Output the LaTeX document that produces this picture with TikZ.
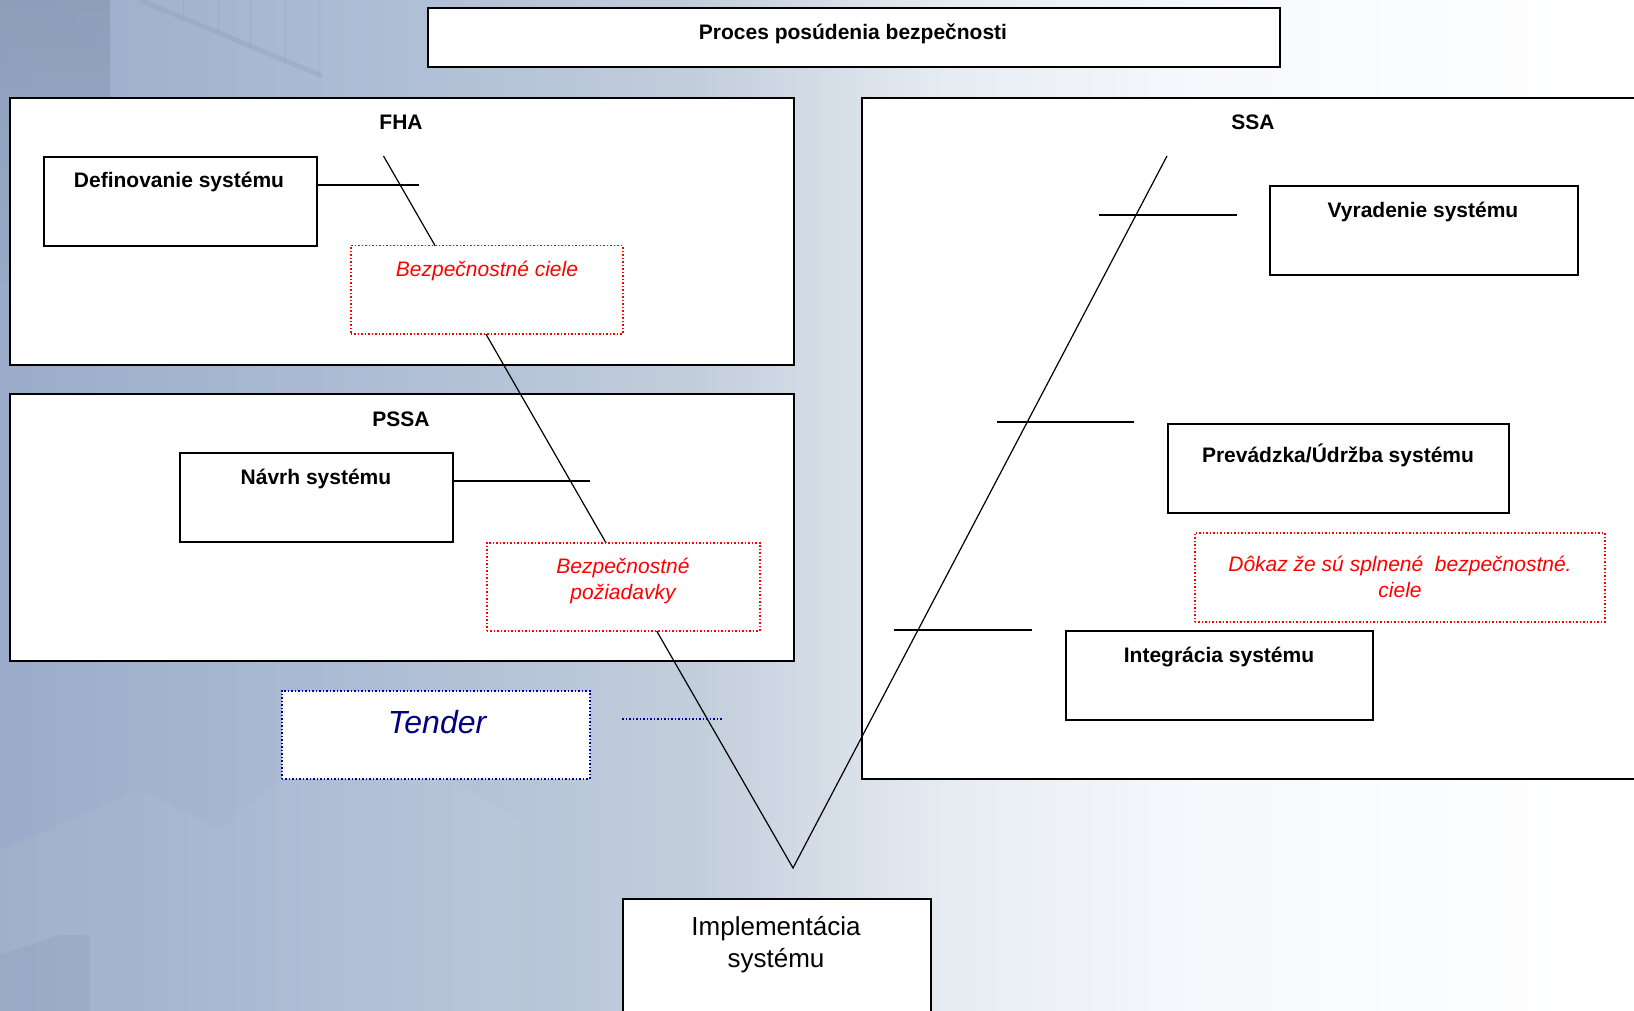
\documentclass[tikz,border=0pt]{standalone}
\usepackage{fontspec}
\setmainfont{Liberation Sans}
\begin{document}
\begin{tikzpicture}[x=1pt,y=-1pt,
  frame/.style={draw=black, line width=2pt, fill=white, inner sep=0pt, anchor=north west},
  goalbox/.style={draw=red, line width=1.5pt, dotted, fill=white, inner sep=0pt, anchor=north west},
  tenderbox/.style={draw=blue!60!black, line width=1.5pt, dotted, fill=white, inner sep=0pt, anchor=north west},
  head/.style={font=\fontsize{21}{25}\selectfont\bfseries, inner sep=0pt},
  goaltext/.style={font=\fontsize{21}{26}\selectfont\itshape, text=red, align=center, inner sep=0pt},
  vee/.style={draw=black, line width=1.2pt},
  tick/.style={draw=black, line width=1.7pt},
]
\definecolor{bgA}{HTML}{9AACC9}
\definecolor{bgB}{HTML}{AEBED5}
\definecolor{bgC}{HTML}{C3CEDC}
\definecolor{bgD}{HTML}{E6ECF2}
\definecolor{bgE}{HTML}{F6F9FC}
\definecolor{bgDark}{HTML}{8A9BB6}
\definecolor{navyText}{HTML}{000080}

\useasboundingbox (0,0) rectangle (1634,1011);
\clip (0,0) rectangle (1634,1011);

% ---- backdrop: soft blue-grey gradient fading to white ----
\shade[left color=bgA, right color=bgB] (0,0) rectangle (400,1011);
\shade[left color=bgB, right color=bgC] (399,0) rectangle (700,1011);
\shade[left color=bgC, right color=bgD] (699,0) rectangle (950,1011);
\shade[left color=bgD, right color=bgE] (949,0) rectangle (1200,1011);
\shade[left color=bgE, right color=white] (1199,0) rectangle (1634,1011);
% faint building silhouettes
\shade[top color=bgDark, bottom color=bgA, opacity=0.8] (0,0) rectangle (110,330);
\fill[bgDark, opacity=0.35] (0,1011) -- (0,955) -- (60,935) -- (90,935) -- (90,1011) -- cycle;
\fill[white, opacity=0.05] (0,850) -- (140,790) -- (220,830) -- (350,720) -- (520,820) -- (520,1011) -- (0,1011) -- cycle;
\draw[bgDark, opacity=0.3, line width=5pt] (140,0) -- (322,76);
\foreach \xx in {183,218,250,285,318}
  \draw[bgDark, opacity=0.3, line width=1pt] (\xx,0) -- (\xx,{(\xx-140)*0.42+2});

% ---- phase frames ----
\node[frame, minimum width=852, minimum height=59] (title) at (427,7) {};
\node[head] (titletext) at (853,34) {Proces posúdenia bezpečnosti};

\node[frame, minimum width=784, minimum height=267] (fha) at (9,97) {};
\node[head] (fhatext) at (401,122) {FHA};

\node[frame, minimum width=784, minimum height=267] (pssa) at (9,393) {};
\node[head] (pssatext) at (401,419) {PSSA};

\node[frame, minimum width=790, minimum height=681] (ssa) at (861,97) {};
\node[head] (ssatext) at (1253,122) {SSA};

% ---- V-model lines ----
\coordinate (vleft) at (383.5,156);
\coordinate (vbottom) at (793,868);
\coordinate (vright) at (1167,156);
\draw[vee] (vleft) -- (vbottom) -- (vright);

% ---- activity boxes ----
\node[frame, minimum width=273, minimum height=89] (def) at (43,156) {};
\node[head] at (179,182) {Definovanie systému};
\coordinate (deftick) at (419,185);
\draw[tick] (def.east |- deftick) -- (deftick);

\node[frame, minimum width=273, minimum height=89] (navrh) at (179,452) {};
\node[head] at (316,479) {Návrh systému};
\coordinate (navrhtick) at (590,481);
\draw[tick] (navrh.east |- navrhtick) -- (navrhtick);

\node[frame, minimum width=308, minimum height=89] (vyr) at (1269,185) {};
\node[head] at (1423,212) {Vyradenie systému};

\node[frame, minimum width=341, minimum height=89] (prev) at (1167,423) {};
\node[head] at (1338,455) {Prevádzka/Údržba systému};

\node[frame, minimum width=307, minimum height=89] (integ) at (1065,630) {};
\node[head] at (1219,657) {Integrácia systému};

\coordinate (tkAa) at (1099,215); \coordinate (tkAb) at (1237,215);
\coordinate (tkBa) at (997,422);  \coordinate (tkBb) at (1134,422);
\coordinate (tkCa) at (894,630);  \coordinate (tkCb) at (1032,630);
\draw[tick] (tkAa) -- (tkAb);
\draw[tick] (tkBa) -- (tkBb);
\draw[tick] (tkCa) -- (tkCb);

% ---- safety goals / requirements / evidence ----
\node[goalbox, minimum width=272, minimum height=88] (ciele) at (350,245) {};
\node[goaltext] at (487,271) {Bezpečnostné ciele};

\node[goalbox, minimum width=273, minimum height=88] (poz) at (486,542) {};
\node[goaltext, anchor=north] at (623,558) {Bezpečnostné\\požiadavky};

\node[goalbox, minimum width=410, minimum height=89] (dokaz) at (1194,532) {};
\node[goaltext, anchor=north] at (1400,556) {Dôkaz že sú splnené\ \ bezpečnostné.\\ciele};

% ---- tender ----
\node[tenderbox, minimum width=308, minimum height=88] (tender) at (281,690) {};
\node[font=\fontsize{32}{38}\selectfont\itshape, text=navyText, inner sep=0pt] at (437,722) {Tender};
\coordinate (tdA) at (622,719); \coordinate (tdB) at (723,719);
\draw[draw=blue!60!black, line width=1.5pt, dotted] (tdA) -- (tdB);

% ---- implementation ----
\node[frame, minimum width=308, minimum height=140] (impl) at (622,898) {};
\node[font=\fontsize{26}{32}\selectfont, align=center, inner sep=0pt, anchor=north] at (776,916) {Implementácia\\systému};

\end{tikzpicture}
\end{document}
